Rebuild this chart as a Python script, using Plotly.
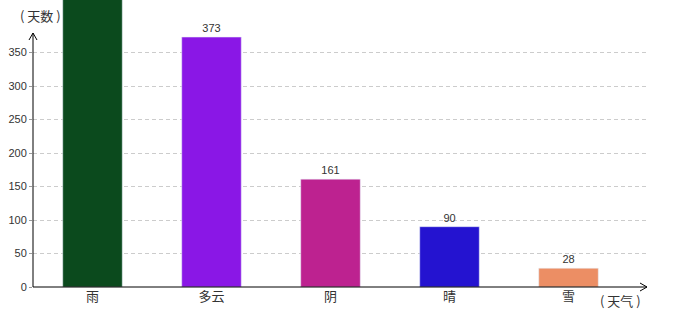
import plotly.graph_objects as go

categories = ["雨", "多云", "阴", "晴", "雪"]
values = [520, 373, 161, 90, 28]
labels = ["", "373", "161", "90", "28"]  # label of the tall bar lies off-canvas in the reference
colors = ["#0b4a1d", "#8a17e6", "#bd2290", "#2413d0", "#ec8e64"]
y_ticks = [0, 50, 100, 150, 200, 250, 300, 350]

W, H = 680, 320
L, R, T, B = 33, 33, 0, 33
PW, PH = W - L - R, H - T - B
K = 0.67  # px per unit
YMAX = PH / K

def px(x):
    return (x - L) / PW

def py(y):
    return (H - B - y) / PH

font = "Liberation Sans, DejaVu Sans, Noto Sans CJK SC, sans-serif"
cjk = "Noto Sans CJK JP"

fig = go.Figure(go.Bar(
    x=list(range(len(categories))), y=values, marker_color=colors, width=0.5,
    text=labels, textposition="outside", cliponaxis=True,
    textfont=dict(size=11, color="#333", family=font),
))

shapes = []
ln = dict(color="black", width=1)
# y axis line + chevron
shapes.append(dict(type="line", xref="paper", yref="paper", x0=px(33), x1=px(33), y0=py(287), y1=py(33), line=ln))
shapes.append(dict(type="line", xref="paper", yref="paper", x0=px(29), x1=px(33), y0=py(40), y1=py(33), line=ln))
shapes.append(dict(type="line", xref="paper", yref="paper", x0=px(37), x1=px(33), y0=py(40), y1=py(33), line=ln))
# x axis line + chevron
shapes.append(dict(type="line", xref="paper", yref="paper", x0=px(33), x1=px(647), y0=py(287), y1=py(287), line=ln))
shapes.append(dict(type="line", xref="paper", yref="paper", x0=px(640), x1=px(647), y0=py(283), y1=py(287), line=ln))
shapes.append(dict(type="line", xref="paper", yref="paper", x0=px(640), x1=px(647), y0=py(291), y1=py(287), line=ln))

fig.update_layout(
    width=W, height=H, margin=dict(l=L, r=R, t=T, b=B),
    paper_bgcolor="white", plot_bgcolor="white", showlegend=False,
    font=dict(family=font, color="#333"),
    shapes=shapes,
    xaxis=dict(range=[-0.5, -0.5 + PW / 119], tickmode="array",
               tickvals=list(range(len(categories))), ticktext=categories,
               tickfont=dict(size=13, color="#333", family=cjk),
               showgrid=False, zeroline=False, showline=False, ticks=""),
    yaxis=dict(range=[0, YMAX], tickmode="array", tickvals=y_ticks,
               ticktext=[str(v) for v in y_ticks],
               tickfont=dict(size=11, color="#333", family=font),
               showgrid=True, gridcolor="#cccccc", griddash="4px,3px", gridwidth=1,
               zeroline=False, showline=False, ticks="outside", ticklen=3,
               tickcolor="#999"),
    annotations=[
        dict(text="( 天数 )", xref="paper", yref="paper", x=px(40), y=py(15),
             showarrow=False, font=dict(size=13, color="#333", family=cjk),
             xanchor="center", yanchor="middle"),
        dict(text="( 天气 )", xref="paper", yref="paper", x=px(620), y=py(300),
             showarrow=False, font=dict(size=13, color="#333", family=cjk),
             xanchor="center", yanchor="middle"),
    ],
)

fig.write_html("out.html")
